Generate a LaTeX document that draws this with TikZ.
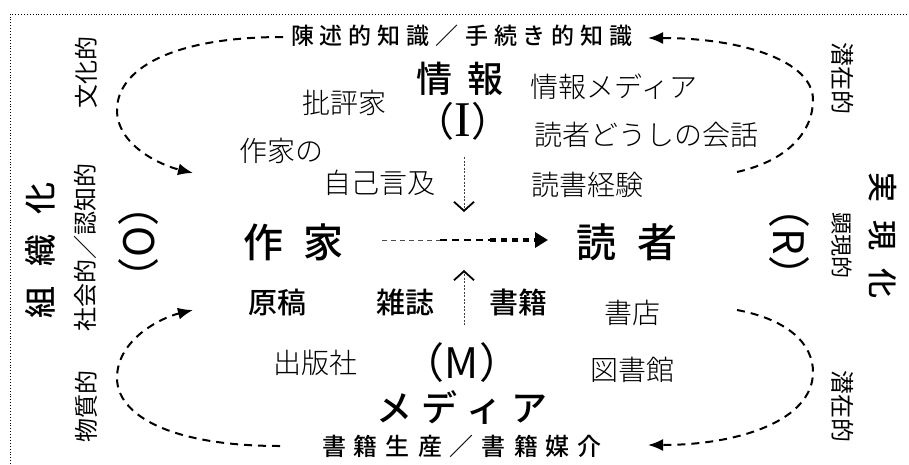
\documentclass[tikz,border=0pt]{standalone}
\usepackage{fontspec}
\newfontfamily\jp{Noto Sans CJK JP Light}
\newfontfamily\jpr{Noto Sans CJK JP}
\newfontfamily\jpm{Noto Sans CJK JP Medium}
\newfontfamily\serifI{Liberation Serif}
\usetikzlibrary{arrows.meta}
\makeatletter
\newdimen\lsdim
\def\lsp#1#2{\lsdim=#1\relax\lsp@a#2\lsp@end}
\def\lsp@end{\lsp@end}
\def\lsp@a#1{#1\lsp@b}
\def\lsp@b#1{\ifx#1\lsp@end\else\kern\lsdim#1\expandafter\lsp@b\fi}
\makeatother
\tikzset{
  lbl/.style={inner sep=0pt, anchor=center},
  light/.style={lbl, font=\jp\fontsize{28}{28}\selectfont},
  mid/.style={lbl, font=\jpm\fontsize{29}{29}\selectfont},
  big/.style={lbl, font=\jpm\fontsize{#1}{#1}\selectfont},
  small/.style={lbl, font=\jpr\fontsize{24}{24}\selectfont},
  paren/.style={lbl, font=\jpr\fontsize{#1}{#1}\selectfont},
  loop/.style={dash pattern=on 8pt off 6pt, line width=2pt},
  tipL/.style={-{Latex[length=15pt,width=12pt]}},
  vtip/.style={dash pattern=on 2pt off 1.5pt, line width=0.8pt, draw=black!75,
    -{Straight Barb[length=9pt,width=20pt,line width=1.8pt,black]}},
}
\begin{document}
\begin{tikzpicture}[x=1pt,y=-1pt]
\useasboundingbox (0,0) rectangle (909,464);
% frame
\draw[dotted, line width=0.9pt] (10,464) -- (10,14) -- (909,14);

% top / bottom titles
\node[big=23] (know) at (462,36) {\lsp{6pt}{陳述的知識／手続き的知識}};
\node[big=24] (book) at (462,446) {\lsp{8pt}{書籍生産／書籍媒介}};

% centre
\node[big=36] (info) at (460,79) {\lsp{16pt}{情報}};
\node[paren=40] (infoI) at (463,121) {（{\serifI\fontsize{50}{50}\selectfont I}）};
\node[big=40] (sakka) at (293,242) {\lsp{20pt}{作家}};
\node[big=40] (dok) at (627,242) {\lsp{21pt}{読者}};
\node[paren=42] (mM) at (462,363) {（M）};
\node[big=36] (media) at (462,407) {\lsp{9pt}{メディア}};

% light labels
\node[light] (hihyo) at (344,103) {批評家};
\node[light] (jmedia) at (614,87) {情報メディア};
\node[light] (kaiwa) at (646,135) {読者どうしの会話};
\node[light] (keiken) at (587,185) {読書経験};
\node[light] (sakkano) at (281,151) {作家の};
\node[light] (genkyu) at (379,183) {自己言及};
\node[light] (shoten) at (632,313) {書店};
\node[light] (shuppan) at (315,363) {出版社};
\node[light] (tosho) at (632,370) {図書館};

% mid labels
\node[mid] (genko) at (277,302) {原稿};
\node[mid] (zasshi) at (405,302) {雑誌};
\node[mid] (shoseki) at (518,302) {書籍};

% left side
\node[big=32, rotate=90] (soshiki) at (40,250) {\lsp{20pt}{組織化}};
\node[small, rotate=90] (shakai) at (85,247) {社会的／認知的};
\node[small, rotate=90] (bunka) at (86,72) {文化的};
\node[small, rotate=90] (busshitsu) at (86,406) {物質的};
\node[paren=42, rotate=90] (oO) at (139,242) {（O）};

% right side
\node[big=30, rotate=-90] (jitsugen) at (883,235) {\lsp{18pt}{実現化}};
\node[lbl, rotate=-90, font=\jpr\fontsize{22}{22}\selectfont] (kengen) at (842,245) {顕現的};
\node[paren=42, rotate=-90] (rR) at (789,242) {（R）};
\node[small, rotate=-90] (senzai1) at (843,78) {潜在的};
\node[small, rotate=-90] (senzai2) at (843,406) {潜在的};

% loop end points
\coordinate (tlS) at (283,37);
\coordinate (tlE) at (193,173);
\coordinate (trS) at (737,172);
\coordinate (trE) at (648,38);
\coordinate (blS) at (280,446);
\coordinate (blE) at (193,310);
\coordinate (brS) at (737,310);
\coordinate (brE) at (648,445);

\draw[loop, tipL] (tlS) .. controls (170,37) and (117,70) .. (117,110)
  .. controls (117,145) and (160,165) .. (tlE);
\draw[loop, tipL] (trS) .. controls (790,160) and (813,130) .. (813,100)
  .. controls (813,60) and (740,38) .. (trE);
\draw[loop, tipL] (blS) .. controls (170,446) and (117,415) .. (117,378)
  .. controls (117,340) and (160,318) .. (blE);
\draw[loop, tipL] (brS) .. controls (790,320) and (813,345) .. (813,372)
  .. controls (813,420) and (740,445) .. (brE);

% central arrow
\coordinate (a0) at (382,240);
\coordinate (a1) at (440,240);
\coordinate (a2) at (490,240);
\coordinate (a3) at (548,240);
\draw[dash pattern=on 5pt off 4pt, line width=0.8pt, black!70] (a0) -- (a1);
\draw[dash pattern=on 7pt off 5pt, line width=1.8pt] (a1) -- (a2);
\draw[dash pattern=on 6pt off 5pt, line width=3.5pt, -{Triangle[length=13pt,width=15pt]}] (a2) -- (a3);

% vertical arrows
\coordinate (d0) at (464,157);
\coordinate (d1) at (464,212);
\coordinate (u0) at (464,325);
\coordinate (u1) at (464,270);
\draw[vtip] (d0) -- (d1);
\draw[vtip] (u0) -- (u1);
\end{tikzpicture}
\end{document}
